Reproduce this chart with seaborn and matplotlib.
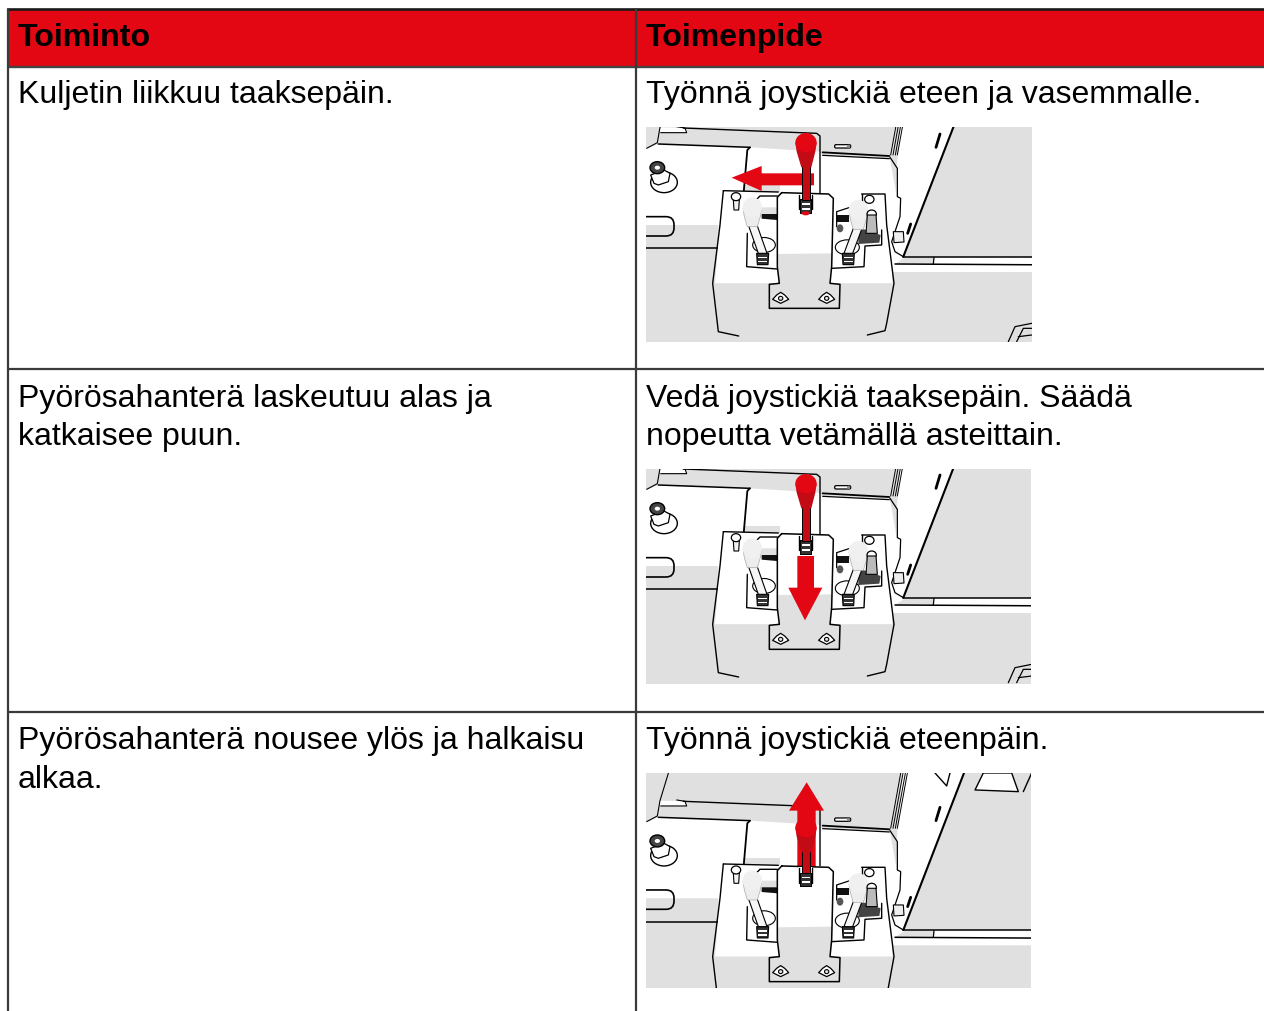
import numpy as np
import matplotlib.pyplot as plt
import seaborn as sns
from matplotlib.patches import Ellipse, Polygon, Rectangle, FancyBboxPatch
sns.set_style("white")
plt.rcParams["font.family"] = ["Liberation Sans", "DejaVu Sans"]

# table texts
headers = ["Toiminto", "Toimenpide"]
actions = [
    ["Kuljetin liikkuu taaksepäin."],
    ["Pyörösahanterä laskeutuu alas ja", "katkaisee puun."],
    ["Pyörösahanterä nousee ylös ja halkaisu", "alkaa."],
]
measures = [
    ["Työnnä joystickiä eteen ja vasemmalle."],
    ["Vedä joystickiä taaksepäin. Säädä", "nopeutta vetämällä asteittain."],
    ["Työnnä joystickiä eteenpäin."],
]

RED = "#e30613"
DARKRED = "#c30b16"
GREY = "#e0e0e0"

fig = plt.figure(figsize=(12.64, 10.11), dpi=100)
ax = fig.add_axes([0, 0, 1, 1])
ax.axis("off")


def illustration(ox, oy, clip, arrow):
    """Joystick panel, drawn in zoom units (3 = one pixel)"""
    clip_rect = Rectangle((clip[0], clip[1]), clip[2], clip[3], transform=ax.transData)

    def pts(p):
        p = np.array(p, dtype=float)
        return np.c_[p[:, 0] / 3 + ox, p[:, 1] / 3 + oy]

    def fill(p, color, z=2, ec="none", lw=0):
        patch = Polygon(pts(p), closed=True, fc=color, ec=ec, lw=lw, zorder=z, joinstyle="round")
        ax.add_patch(patch)
        patch.set_clip_path(clip_rect)

    def line(p, z=3, lw=1.0, color="black"):
        p = pts(p)
        l, = ax.plot(p[:, 0], p[:, 1], color=color, lw=lw, zorder=z, solid_capstyle="round")
        l.set_clip_path(clip_rect)

    def oval(x, y, w, h, color, z=3, ec="none", lw=0):
        e = Ellipse((x / 3 + ox, y / 3 + oy), w / 3, h / 3, fc=color, ec=ec, lw=lw, zorder=z)
        ax.add_patch(e)
        e.set_clip_path(clip_rect)

    def rounded(x, y, w, h, r, fc, ec="black", lw=1.0, z=3):
        p = FancyBboxPatch((x / 3 + ox, y / 3 + oy), w / 3, h / 3,
                           boxstyle="round,pad=0,rounding_size=%s" % (r / 3),
                           fc=fc, ec=ec, lw=lw, zorder=z)
        ax.add_patch(p)
        p.set_clip_path(clip_rect)

    # background
    fill([(-50, -100), (1300, -100), (1300, 800), (-50, 800)], GREY, z=1)

    # white surfaces
    fill([(0, 88), (30, 82), (55, 72), (330, 82), (540, 95), (545, 105), (750, 115), (770, 230),
          (790, 410), (760, 455), (745, 490), (230, 490), (235, 315), (0, 315)], "white")
    fill([(987, -100), (790, 410), (1300, 410), (1300, 456), (760, 456), (765, 300), (770, 150),
          (790, -100)], "white")
    fill([(795, 412), (882, 412), (880, 432), (765, 432)], GREY, z=2)
    fill([(882, 412), (1300, 412), (1300, 435), (880, 432)], "white")
    fill([(987, -100), (790, 410), (1300, 410), (1300, -100)], GREY, z=2)
    fill([(310, 195), (420, 195), (420, 225), (310, 225)], GREY, z=2)
    fill([(60, 22), (138, 24), (140, 38), (60, 38)], "white")

    # top edges
    line([(85, -60), (60, 22), (52, 68), (20, 85)], lw=0.8)
    line([(62, 38), (140, 38), (135, 24), (110, 20)], lw=0.8)
    line([(130, 24), (530, 40), (540, 48), (540, 220)], lw=1.0)
    line([(55, 72), (330, 82)], lw=1.1)
    line([(330, 82), (322, 90), (310, 230)], lw=1.3)
    line([(548, 97), (748, 108)], lw=1.3)
    line([(548, 106), (748, 116)], lw=0.9)
    for dx in (0, 7, 14, 20):
        line([(752 + dx, 105), (782 + dx, -60)], lw=0.7)
    line([(750, 112), (772, 145), (772, 230), (782, 235), (780, 290), (755, 365), (765, 395), (790, 410)], lw=0.9)
    line([(987, -100), (790, 410)], lw=1.5)
    line([(1300, 410), (790, 410)], lw=1.1)
    line([(765, 432), (1300, 435)], lw=1.1)
    line([(882, 412), (880, 432)], lw=0.9)
    line([(0, 385), (235, 385)], lw=1.1)
    # slots and small bolts
    rounded(-40, 290, 142, 58, 24, "none", lw=1.2, z=3)
    rounded(584, 74, 48, 10, 4, "white", lw=0.9)
    oval(626, 79, 10, 10, "#888888", z=4)
    line([(900, 42), (888, 82)], lw=2.0)
    line([(812, 312), (803, 340)], lw=2.0)
    fill([(760, 335), (790, 335), (792, 366), (762, 368)], "#eeeeee", z=3, ec="black", lw=0.8)
    oval(72, 187, 80, 62, "white", ec="black", lw=1.0)
    fill([(32, 165), (72, 150), (90, 160), (85, 185), (55, 195), (42, 190)], "white", z=3, ec="black", lw=0.9)
    oval(52, 143, 44, 36, "#444444", z=4, ec="black", lw=1.0)
    oval(52, 143, 16, 12, "white", z=5)
    line([(1105, 665), (1125, 620), (1175, 610)], lw=0.9)
    line([(1130, 665), (1150, 625), (1175, 625)], lw=0.9)
    line([(1135, 650), (1175, 645)], lw=0.9)
    if arrow == "up":
        # extra parts visible in the higher crop
        fill([(1030, -61), (1115, -61), (1135, -5), (1005, -10)], "white", z=3, ec="black", lw=1.0)
        line([(1150, -5), (1175, -61)], lw=1.0)
        line([(885, -61), (920, -22), (930, -61)], lw=1.0)

    # control box
    fill([(255, 212), (738, 224), (757, 490), (225, 490), (240, 315)], "white", z=4)
    fill([(225, 490), (757, 490), (740, 625), (680, 648), (680, 800), (295, 800), (295, 648), (235, 635)], GREY, z=4)
    line([(250, 212), (415, 216)], z=5, lw=1.0)
    line([(665, 222), (735, 222), (740, 315), (762, 490), (740, 610), (735, 632), (682, 645)], z=5, lw=1.0)
    line([(250, 212), (240, 315), (218, 490), (235, 635), (296, 648)], z=5, lw=1.0)

    # wells around the side levers
    line([(322, 340), (320, 440), (412, 447)], z=5, lw=1.0)
    line([(575, 445), (672, 440), (675, 378), (725, 375), (725, 330)], z=5, lw=1.0)
    line([(665, 222), (665, 262)], z=5, lw=1.0)
    line([(350, 238), (360, 228), (412, 228)], z=5, lw=1.0)
    fill([(365, 262), (412, 262), (412, 300), (365, 296)], "#e0e0e0", z=6)
    fill([(365, 282), (412, 282), (412, 300), (365, 296)], "#111111", z=6)
    fill([(590, 285), (628, 285), (628, 305), (590, 305)], "#111111", z=6)
    fill([(655, 322), (722, 345), (718, 368), (655, 372)], "#444444", z=6)
    line([(590, 320), (590, 275), (630, 262)], z=6, lw=0.9)
    oval(372, 375, 68, 45, "white", z=6, ec="black", lw=0.8)
    oval(622, 382, 72, 45, "white", z=6, ec="black", lw=0.8)
    oval(600, 325, 20, 24, "#555555", z=6)

    # centre plate, white on top and shaded below
    plate = [(425, 218), (566, 222), (580, 235), (575, 440), (570, 490), (600, 493), (598, 565),
             (388, 565), (388, 493), (418, 490), (412, 440), (412, 232)]
    fill(plate, "white", z=7)
    fill([(412, 402), (578, 400), (570, 490), (600, 493), (598, 565), (388, 565), (388, 493), (418, 490)], GREY, z=7)
    pp = pts(plate + plate[:1])
    l, = ax.plot(pp[:, 0], pp[:, 1], color="black", lw=1.1, zorder=8)
    l.set_clip_path(clip_rect)
    for x in (422, 560):
        fill([(x - 24, 538), (x - 12, 525), (x, 517), (x + 12, 525), (x + 24, 538), (x, 550)], "white", z=8, ec="black", lw=0.9)
        oval(x, 535, 13, 12, GREY, z=9, ec="black", lw=0.8)

    # slot for the middle lever
    fill([(478, 222), (516, 222), (516, 275), (478, 275)], "white", z=8)
    line([(478, 224), (478, 268)], z=9, lw=1.0)
    line([(516, 224), (516, 268)], z=9, lw=1.0)

    # side levers
    for hx, hy, bx, by in ((337, 262, 368, 400), (655, 270, 625, 400)):
        fill([(hx - 13, hy + 50), (hx + 13, hy + 50), (bx + 13, by), (bx - 13, by)], "#f6f6f6", z=9, ec="black", lw=0.8)
        fill([(bx - 18, by), (bx + 18, by), (bx + 16, by + 34), (bx - 16, by + 34)], "#333333", z=8, ec="black", lw=0.8)
        for dy in (10, 22):
            fill([(bx - 14, by + dy), (bx + 14, by + dy), (bx + 14, by + dy + 5), (bx - 14, by + dy + 5)], "white", z=9)
        fill([(hx - 28, hy + 2), (hx + 28, hy + 2), (hx + 24, hy + 28), (hx + 15, hy + 58), (hx - 15, hy + 58), (hx - 24, hy + 28)],
             "#ededed", z=10, ec="#aaaaaa", lw=0.5)
        oval(hx, hy, 58, 60, "#f0f0f0", z=10)
    for bx, by in ((288, 230), (688, 238), (695, 282)):
        oval(bx, by, 28, 24, "white", z=11, ec="black", lw=0.9)
    fill([(280, 240), (298, 240), (296, 270), (282, 270)], "#f2f2f2", z=7, ec="black", lw=0.8)
    fill([(682, 285), (708, 285), (712, 340), (678, 340)], "#bbbbbb", z=11, ec="black", lw=0.8)

    # direction arrow
    if arrow == "left":
        fill([(275, 173), (365, 138), (365, 160), (522, 160), (522, 196), (365, 196), (365, 213)], RED, z=6.5)
        top = 40
    elif arrow == "down":
        fill([(472, 285), (522, 285), (522, 380), (547, 380), (495, 478), (445, 380), (472, 380)], RED, z=9)
        top = 40
    else:
        fill([(500, -33), (552, 52), (527, 52), (527, 225), (472, 225), (472, 52), (447, 52)], RED, z=6.5)
        top = 75

    # red lever
    fill([(486, top + 90), (511, top + 90), (511, 240), (486, 240)], DARKRED, z=10, ec="black", lw=0.7)
    fill([(466, top + 28), (530, top + 28), (526, top + 55), (514, top + 102), (484, top + 102), (470, top + 55)], DARKRED, z=11)
    oval(498, top + 28, 64, 58, RED, z=12)
    fill([(481, 238), (514, 238), (514, 278), (481, 278)], "#333333", z=9, ec="black", lw=0.7)
    for dy in (250, 264):
        fill([(485, dy), (510, dy), (510, dy + 5), (485, dy + 5)], "white", z=10)
    if arrow == "left":
        oval(497, 280, 24, 12, RED, z=10)


# header band and table rules
ax.add_patch(Rectangle((8, 9), 1256, 58, fc=RED, ec="none", zorder=1))
rule_y = [9, 67, 369, 712]
rule_colors = ["#1a1a1a", "#444444", "#3a3a3a", "#3a3a3a"]
rule_w = [1.9, 1.7, 1.6, 1.6]
for y, c, w in zip(rule_y, rule_colors, rule_w):
    sns.lineplot(x=[8, 1264], y=[y, y], ax=ax, estimator=None, sort=False, color=c, lw=w, zorder=20)
for x in (8, 636):
    sns.lineplot(x=[x, x], y=[9, 1011], ax=ax, estimator=None, sort=False, color="#3a3a3a", lw=1.6, zorder=20)

# texts
text_x = [18, 646]
for x, t in zip(text_x, headers):
    ax.text(x, 46, t, fontweight="bold", fontsize=23.1, color="black", va="baseline", zorder=21)

row_base = [103, 407, 749]
LINE_H = 38.5
for col, rows in zip(text_x, (actions, measures)):
    for y0, lines in zip(row_base, rows):
        for i, t in enumerate(lines):
            ax.text(col, y0 + i * LINE_H, t, fontsize=23.0, color="black", va="baseline", zorder=21)

# pictures
illustration(640, 120, (646, 127, 386, 215), "left")
illustration(640, 461, (646, 469, 385, 215), "down")
illustration(640, 793.3, (646, 773, 385, 215), "up")

ax.set_xlim(0, 1264)
ax.set_ylim(1011, 0)
fig.savefig("out.png", dpi=100)
plt.close()
